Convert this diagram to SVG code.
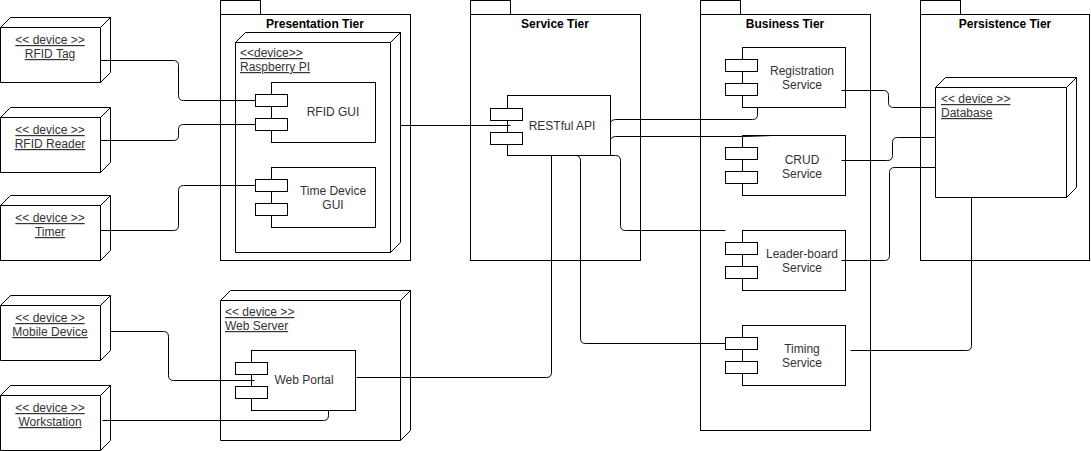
<svg xmlns="http://www.w3.org/2000/svg" width="1091" height="451" viewBox="0 0 1091 451">
<style>
.s{fill:#fff;stroke:#000;stroke-width:1}
.c{fill:none;stroke:#000;stroke-width:1}
text{font-family:"Liberation Sans",Arial,Helvetica,sans-serif;font-size:12px;fill:#333}
.t{font-weight:bold;fill:#000;text-anchor:middle}
.m{text-anchor:middle}
.u{text-decoration:underline}
</style>
<rect width="1091" height="451" fill="#fff"/>
<g id="presentation-tier">
<rect class="s" x="220.5" y="0.5" width="40" height="14"/>
<rect class="s" x="220.5" y="14.5" width="190" height="246"/>
<text class="t" x="315" y="28">Presentation Tier</text>
</g>
<g id="service-tier">
<rect class="s" x="470.5" y="0.5" width="40" height="14"/>
<rect class="s" x="470.5" y="14.5" width="170" height="246"/>
<text class="t" x="555" y="28">Service Tier</text>
</g>
<g id="business-tier">
<rect class="s" x="700.5" y="0.5" width="40" height="14"/>
<rect class="s" x="700.5" y="14.5" width="170" height="416"/>
<text class="t" x="785" y="28">Business Tier</text>
</g>
<g id="persistence-tier">
<rect class="s" x="920.5" y="0.5" width="40" height="14"/>
<rect class="s" x="920.5" y="14.5" width="169" height="246"/>
<text class="t" x="1005" y="28">Persistence Tier</text>
</g>
<g id="rfid-tag">
<path class="s" d="M0.5,27.5 L10.5,17.5 H110.5 V72.5 L100.5,82.5 H0.5 Z M0.5,27.5 H100.5 V82.5 M100.5,27.5 L110.5,17.5"/>
<text class="m u" x="50" y="44">&lt;&lt; device &gt;&gt;</text>
<text class="m u" x="50" y="58">RFID Tag</text>
</g>
<g id="rfid-reader">
<path class="s" d="M0.5,117.5 L10.5,107.5 H110.5 V162.5 L100.5,172.5 H0.5 Z M0.5,117.5 H100.5 V172.5 M100.5,117.5 L110.5,107.5"/>
<text class="m u" x="50" y="134">&lt;&lt; device &gt;&gt;</text>
<text class="m u" x="50" y="148">RFID Reader</text>
</g>
<g id="timer">
<path class="s" d="M0.5,205.5 L10.5,195.5 H110.5 V250.5 L100.5,260.5 H0.5 Z M0.5,205.5 H100.5 V260.5 M100.5,205.5 L110.5,195.5"/>
<text class="m u" x="50" y="222">&lt;&lt; device &gt;&gt;</text>
<text class="m u" x="50" y="236">Timer</text>
</g>
<g id="mobile-device">
<path class="s" d="M0.5,305.5 L10.5,295.5 H110.5 V350.5 L100.5,360.5 H0.5 Z M0.5,305.5 H100.5 V360.5 M100.5,305.5 L110.5,295.5"/>
<text class="m u" x="50" y="322">&lt;&lt; device &gt;&gt;</text>
<text class="m u" x="50" y="336">Mobile Device</text>
</g>
<g id="workstation">
<path class="s" d="M0.5,395.5 L10.5,385.5 H110.5 V440.5 L100.5,450.5 H0.5 Z M0.5,395.5 H100.5 V450.5 M100.5,395.5 L110.5,385.5"/>
<text class="m u" x="50" y="412">&lt;&lt; device &gt;&gt;</text>
<text class="m u" x="50" y="426">Workstation</text>
</g>
<g id="raspberry-pi">
<path class="s" d="M235.5,42.5 L245.5,32.5 H400.5 V242.5 L390.5,252.5 H235.5 Z M235.5,42.5 H390.5 V252.5 M390.5,42.5 L400.5,32.5"/>
<text class="u" x="240" y="57">&lt;&lt;device&gt;&gt;</text>
<text class="u" x="240" y="71">Raspberry PI</text>
</g>
<g id="web-server">
<path class="s" d="M220.5,300.5 L230.5,290.5 H410.5 V430.5 L400.5,440.5 H220.5 Z M220.5,300.5 H400.5 V440.5 M400.5,300.5 L410.5,290.5"/>
<text class="u" x="225" y="316">&lt;&lt; device &gt;&gt;</text>
<text class="u" x="225" y="330">Web Server</text>
</g>
<g id="database">
<path class="s" d="M935.5,87.5 L945.5,77.5 H1076.5 V187.5 L1066.5,197.5 H935.5 Z M935.5,87.5 H1066.5 V197.5 M1066.5,87.5 L1076.5,77.5"/>
<text class="u" x="941" y="103">&lt;&lt; device &gt;&gt;</text>
<text class="u" x="941" y="117">Database</text>
</g>
<g id="rfid-gui">
<rect class="s" x="271.5" y="82.5" width="104" height="60"/>
<rect class="s" x="255.5" y="94.5" width="32" height="12"/>
<rect class="s" x="255.5" y="118.5" width="32" height="12"/>
<text class="m" x="333" y="116">RFID GUI</text>
</g>
<g id="time-device-gui">
<rect class="s" x="271.5" y="167.5" width="104" height="60"/>
<rect class="s" x="255.5" y="179.5" width="32" height="12"/>
<rect class="s" x="255.5" y="203.5" width="32" height="12"/>
<text class="m" x="333" y="194.5">Time Device</text>
<text class="m" x="333" y="208.5">GUI</text>
</g>
<g id="web-portal">
<rect class="s" x="251.5" y="350.5" width="104" height="60"/>
<rect class="s" x="235.5" y="362.5" width="32" height="12"/>
<rect class="s" x="235.5" y="386.5" width="32" height="12"/>
<text class="m" x="304" y="384">Web Portal</text>
</g>
<g id="restful-api">
<rect class="s" x="507.5" y="95.5" width="103" height="60"/>
<rect class="s" x="490.5" y="108.5" width="32" height="12"/>
<rect class="s" x="490.5" y="132.5" width="32" height="12"/>
<text class="m" x="562" y="129.5">RESTful API</text>
</g>
<g id="registration-service">
<rect class="s" x="742.5" y="47.5" width="103" height="60"/>
<rect class="s" x="725.5" y="59.5" width="32" height="12"/>
<rect class="s" x="725.5" y="83.5" width="32" height="12"/>
<text class="m" x="802" y="75">Registration</text>
<text class="m" x="802" y="89">Service</text>
</g>
<g id="crud-service">
<rect class="s" x="742.5" y="135.5" width="103" height="60"/>
<rect class="s" x="725.5" y="147.5" width="32" height="12"/>
<rect class="s" x="725.5" y="171.5" width="32" height="12"/>
<text class="m" x="802" y="163.5">CRUD</text>
<text class="m" x="802" y="177.5">Service</text>
</g>
<g id="leaderboard-service">
<rect class="s" x="742.5" y="230.5" width="103" height="60"/>
<rect class="s" x="725.5" y="242.5" width="32" height="12"/>
<rect class="s" x="725.5" y="266.5" width="32" height="12"/>
<text class="m" x="802" y="257.5">Leader-board</text>
<text class="m" x="802" y="271.5">Service</text>
</g>
<g id="timing-service">
<rect class="s" x="742.5" y="325.5" width="103" height="60"/>
<rect class="s" x="725.5" y="337.5" width="32" height="12"/>
<rect class="s" x="725.5" y="361.5" width="32" height="12"/>
<text class="m" x="802" y="352.5">Timing</text>
<text class="m" x="802" y="366.5">Service</text>
</g>
<g id="connectors">
<path class="c" d="M100.5,60.5 H173.5 Q178.5,60.5 178.5,65.5 V95.5 Q178.5,100.5 183.5,100.5 H255.5"/>
<path class="c" d="M100.5,140.5 H173.5 Q178.5,140.5 178.5,135.5 V129.5 Q178.5,124.5 183.5,124.5 H255.5"/>
<path class="c" d="M100.5,230.5 H173.5 Q178.5,230.5 178.5,225.5 V190.5 Q178.5,185.5 183.5,185.5 H255.5"/>
<path class="c" d="M110.5,331.5 H163.5 Q168.5,331.5 168.5,336.5 V375.5 Q168.5,380.5 173.5,380.5 H254.5"/>
<path class="c" d="M102.5,420.5 H323.5 Q328.5,420.5 328.5,415.5 V410.5"/>
<path class="c" d="M400.5,125.5 H510.5"/>
<path class="c" d="M551.5,155.5 V372.5 Q551.5,377.5 546.5,377.5 H356.5"/>
<path class="c" d="M610.5,122.5 Q611.5,119.5 615.5,119.5 H752.5 Q757.5,119.5 757.5,114.5 V107.5"/>
<path class="c" d="M610.5,139.5 Q611.5,136.5 615.5,136.5 H745.5 L772.5,135.5"/>
<path class="c" d="M565.5,155.5 H575.5 Q580.5,155.5 580.5,160.5 V338.5 Q580.5,343.5 585.5,343.5 H725.5"/>
<path class="c" d="M565.5,155.5 H615.5 Q620.5,155.5 620.5,160.5 V225.5 Q620.5,230.5 625.5,230.5 H725.5"/>
<path class="c" d="M841.5,90.5 H883.5 Q888.5,90.5 888.5,95.5 V102.5 Q888.5,107.5 893.5,107.5 H935.5"/>
<path class="c" d="M841.5,160.5 H887.5 Q892.5,160.5 892.5,155.5 V142.5 Q892.5,137.5 897.5,137.5 H935.5"/>
<path class="c" d="M841.5,260.5 H884.5 Q889.5,260.5 889.5,255.5 V172.5 Q889.5,167.5 894.5,167.5 H935.5"/>
<path class="c" d="M850.5,350.5 H966.5 Q971.5,350.5 971.5,345.5 V197.5"/>
</g>
</svg>
